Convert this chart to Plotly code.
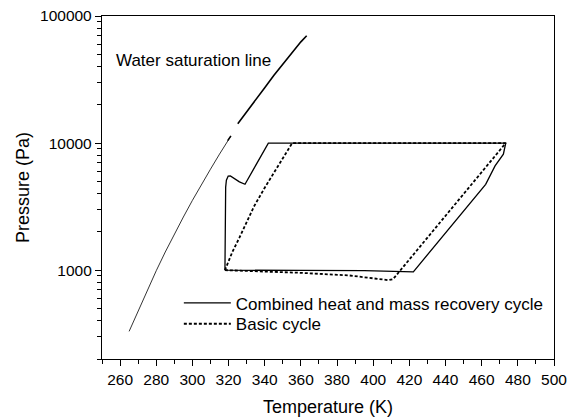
import plotly.graph_objects as go

# Water saturation line (lower, thin part and upper, heavier part)
sat_low_T = [265, 270, 275, 280, 285, 290, 295, 300, 305, 310, 315, 320, 321]
sat_low_P = [330, 480, 700, 990, 1390, 1920, 2620, 3540, 4730, 6230, 8190, 10600, 11200]
sat_high_T = [319.5, 321.3, None, 325.1, 330, 335, 340, 345, 350, 355, 360, 363.2]
sat_high_P = [10450, 11400, None, 14200, 17500, 22000, 27300, 34000, 41800, 51500, 62600, 70000]

# Combined heat and mass recovery cycle
comb_T = [318.0, 318.1, 318.2, 318.4, 318.8, 319.8, 321.0, 323.0, 326.0, 329.1, 342.0,
          473.3, 472.0, 467.4, 462.2, 422.2, 395.0, 360.0, 318.0]
comb_P = [1000, 2000, 3500, 4500, 5100, 5500, 5520, 5300, 4950, 4740, 10000,
          10000, 8180, 6620, 4740, 970, 990, 995, 1000]

# Basic cycle
basic_T = [318.0, 322.0, 326.0, 330.0, 334.0, 340.0, 345.0, 350.0, 355.2,
           473.3, 413.5, 411.0, 408.4, 400.0, 387.0, 360.0, 340.0, 318.0]
basic_P = [1000, 1380, 1800, 2380, 3160, 4450, 5800, 7600, 10000,
           10000, 920, 850, 834, 865, 908, 953, 975, 1000]

FONT = "Liberation Sans, Arial, sans-serif"
LEGEND_FONT = dict(family=FONT, size=17, color="black")

fig = go.Figure()
fig.add_trace(go.Scatter(x=sat_low_T, y=sat_low_P, mode="lines",
                         line=dict(color="black", width=0.8),
                         showlegend=False, hoverinfo="skip"))
fig.add_trace(go.Scatter(x=sat_high_T, y=sat_high_P, mode="lines",
                         line=dict(color="black", width=1.6),
                         showlegend=False, hoverinfo="skip", connectgaps=False))
fig.add_trace(go.Scatter(x=comb_T, y=comb_P, mode="lines",
                         name="Combined heat and mass recovery cycle",
                         line=dict(color="black", width=1.3), legend="legend"))
fig.add_trace(go.Scatter(x=basic_T, y=basic_P, mode="lines",
                         name="Basic cycle",
                         line=dict(color="black", width=1.8, dash="3px,2px"), legend="legend2"))

fig.add_annotation(x=256.6, y=4.65, xref="x", yref="y", text="Water saturation line",
                   showarrow=False, xanchor="left", yanchor="middle",
                   font=dict(family=FONT, size=17, color="black"))

fig.update_layout(
    width=583, height=417,
    margin=dict(l=102, r=29, t=16, b=58),
    paper_bgcolor="white", plot_bgcolor="white",
    font=dict(family=FONT, color="black"),
    legend=dict(x=0.17, y=0.2146, xanchor="left", yanchor="top",
                bgcolor="rgba(0,0,0,0)", borderwidth=0,
                font=LEGEND_FONT, itemwidth=47),
    legend2=dict(x=0.17, y=0.154, xanchor="left", yanchor="top",
                 bgcolor="rgba(0,0,0,0)", borderwidth=0,
                 font=LEGEND_FONT, itemwidth=47),
    xaxis=dict(
        range=[250, 500], tick0=0, dtick=20, automargin=False,
        ticks="outside", ticklen=6, tickwidth=1, tickcolor="black",
        showline=True, linecolor="black", linewidth=1.3, mirror=True,
        showgrid=False, zeroline=False,
        tickfont=dict(family=FONT, size=15.5, color="black"),
        minor=dict(dtick=10, ticks="outside", ticklen=4, tickcolor="black", showgrid=False),
        title=dict(text="Temperature (K)", font=dict(family=FONT, size=18, color="black"),
                   standoff=13),
    ),
    yaxis=dict(
        type="log", range=[2.301, 5], dtick=1, exponentformat="none", tickformat="d",
        automargin=False,
        ticks="outside", ticklen=6, tickwidth=1, tickcolor="black",
        showline=True, linecolor="black", linewidth=1.3, mirror=True,
        showgrid=False, zeroline=False,
        tickfont=dict(family=FONT, size=15.5, color="black"),
        minor=dict(dtick="D1", ticks="outside", ticklen=4, tickcolor="black", showgrid=False),
        title=dict(text="Pressure (Pa)", font=dict(family=FONT, size=18, color="black"),
                   standoff=5),
    ),
)

fig.write_html("out.html")
